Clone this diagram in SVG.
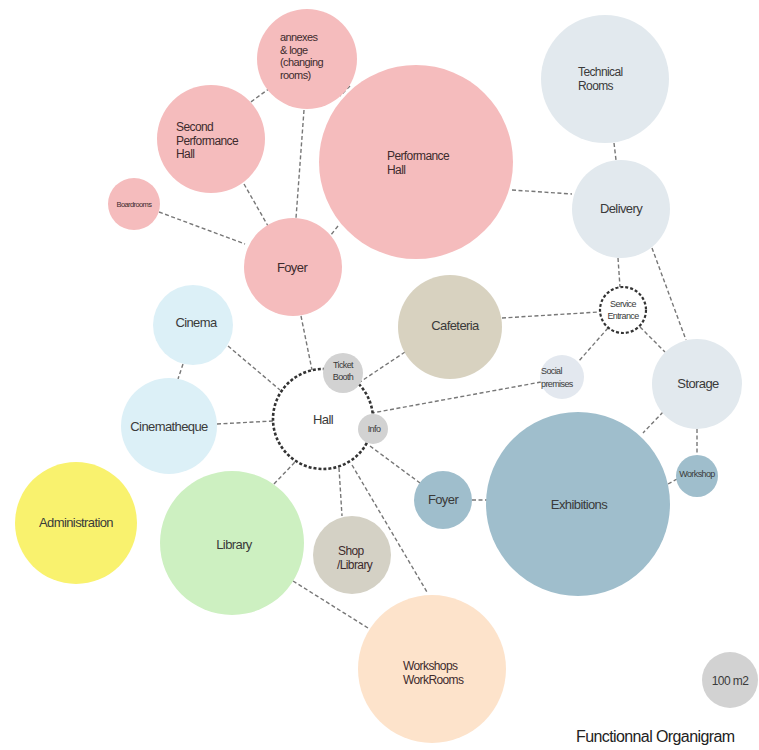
<svg xmlns="http://www.w3.org/2000/svg" width="759" height="750" viewBox="0 0 759 750">
<style>
.bg{fill:#ffffff}
.c{stroke:none}
.pink{fill:#f5bcbd}
.tech{fill:#e2e9ee}
.cine{fill:#dcf0f7}
.caf{fill:#d8d2c0}
.grey{fill:#d2d2d2}
.soc{fill:#e3e8ef}
.adm{fill:#f9f26e}
.lib{fill:#cdf0c1}
.shop{fill:#d4d1c5}
.work{fill:#fde3cb}
.exh{fill:#9fbecc}
.dash{fill:#ffffff;stroke:#333;stroke-width:2.6;stroke-dasharray:3 2}
.dashs{fill:#ffffff;stroke:#333;stroke-width:2.2;stroke-dasharray:3 2}
.ln{stroke:#777;stroke-width:1.4;stroke-dasharray:4 2.5;fill:none}
text{font-family:"Liberation Sans",Arial,sans-serif;fill:#3a3a3a;letter-spacing:-0.6px}
.m{text-anchor:middle}
.p{fill:#3d2b2d}
.s13{font-size:13px}
.s12{font-size:12px}
.s11{font-size:11px}
.s9{font-size:9px}
.s8{font-size:7.5px}
</style>
<rect class="bg" x="0" y="0" width="759" height="750"/>
<g id="connectors">
<line class="ln" x1="270" y1="88" x2="248" y2="104"/>
<line class="ln" x1="350" y1="86" x2="340" y2="96"/>
<line class="ln" x1="304" y1="110" x2="296" y2="218"/>
<line class="ln" x1="244" y1="184" x2="268" y2="226"/>
<line class="ln" x1="159" y1="212" x2="245" y2="244"/>
<line class="ln" x1="338" y1="226" x2="330" y2="236"/>
<line class="ln" x1="512" y1="190" x2="572" y2="194"/>
<line class="ln" x1="614" y1="143" x2="616" y2="160"/>
<line class="ln" x1="618" y1="258" x2="620" y2="287"/>
<line class="ln" x1="652" y1="248" x2="686" y2="340"/>
<line class="ln" x1="502" y1="318" x2="599" y2="312"/>
<line class="ln" x1="608" y1="328" x2="578" y2="362"/>
<line class="ln" x1="640" y1="327" x2="665" y2="352"/>
<line class="ln" x1="541" y1="382" x2="372" y2="413"/>
<line class="ln" x1="405" y1="352" x2="360" y2="382"/>
<line class="ln" x1="301" y1="316" x2="312" y2="370"/>
<line class="ln" x1="228" y1="346" x2="280" y2="390"/>
<line class="ln" x1="183" y1="364" x2="178" y2="379"/>
<line class="ln" x1="217" y1="424" x2="273" y2="421"/>
<line class="ln" x1="274" y1="484" x2="295" y2="462"/>
<line class="ln" x1="339" y1="468" x2="342" y2="516"/>
<line class="ln" x1="352" y1="465" x2="427" y2="592"/>
<line class="ln" x1="370" y1="446" x2="420" y2="483"/>
<line class="ln" x1="472" y1="500" x2="487" y2="500"/>
<line class="ln" x1="668" y1="484" x2="677" y2="479"/>
<line class="ln" x1="697" y1="429" x2="697" y2="455"/>
<line class="ln" x1="663" y1="412" x2="643" y2="433"/>
<line class="ln" x1="293" y1="581" x2="368" y2="628"/>
</g>
<g id="annexes"><circle class="c pink" cx="307" cy="59" r="50"/><text class="s11 p"><tspan x="280" y="41">annexes</tspan><tspan x="280" y="53.5">&amp; loge</tspan><tspan x="280" y="66">(changing</tspan><tspan x="280" y="78.5">rooms)</tspan></text></g>
<g id="second-hall"><circle class="c pink" cx="211" cy="139" r="54"/><text class="s12 p"><tspan x="176" y="131">Second</tspan><tspan x="176" y="144.5">Performance</tspan><tspan x="176" y="158">Hall</tspan></text></g>
<g id="boardrooms"><circle class="c pink" cx="134" cy="204" r="26"/><text class="s8 p m" x="134" y="207">Boardrooms</text></g>
<g id="performance-hall"><circle class="c pink" cx="416" cy="162" r="97"/><text class="s12 p"><tspan x="387" y="160">Performance</tspan><tspan x="387" y="173.5">Hall</tspan></text></g>
<g id="foyer-pink"><circle class="c pink" cx="293" cy="267" r="49"/><text class="s13 p m" x="292" y="272">Foyer</text></g>
<g id="technical"><circle class="c tech" cx="605" cy="79" r="64"/><text class="s12"><tspan x="578" y="76">Technical</tspan><tspan x="578" y="89.5">Rooms</tspan></text></g>
<g id="delivery"><circle class="c tech" cx="621" cy="209" r="49"/><text class="s13 m" x="621" y="213">Delivery</text></g>
<g id="service-entrance"><circle class="dashs" cx="623" cy="310" r="23"/><text class="s9 m"><tspan x="623" y="307">Service</tspan><tspan x="623" y="319">Entrance</tspan></text></g>
<g id="storage"><circle class="c tech" cx="697" cy="384" r="45"/><text class="s13 m" x="698" y="388">Storage</text></g>
<g id="social"><circle class="c soc" cx="562" cy="377" r="22"/><text class="s9"><tspan x="541" y="374">Social</tspan><tspan x="541" y="387">premises</tspan></text></g>
<g id="cafeteria"><circle class="c caf" cx="450" cy="327" r="52"/><text class="s13 m" x="455" y="330">Cafeteria</text></g>
<g id="hall"><circle class="dash" cx="323" cy="419" r="50"/><text class="s13 m" x="323" y="424">Hall</text></g>
<g id="ticket-booth"><circle class="c grey" cx="343" cy="373" r="20"/><text class="s9 m"><tspan x="343" y="368">Ticket</tspan><tspan x="343" y="380">Booth</tspan></text></g>
<g id="info"><circle class="c grey" cx="373" cy="429" r="15"/><text class="s9 m" x="374" y="432">Info</text></g>
<g id="cinema"><circle class="c cine" cx="193" cy="325" r="40"/><text class="s13 m" x="196" y="327">Cinema</text></g>
<g id="cinematheque"><circle class="c cine" cx="169" cy="426" r="48"/><text class="s13 m" x="169" y="431">Cinematheque</text></g>
<g id="administration"><circle class="c adm" cx="76" cy="523" r="61"/><text class="s13 m" x="76" y="527">Administration</text></g>
<g id="library"><circle class="c lib" cx="232" cy="543" r="72"/><text class="s13 m" x="234" y="549">Library</text></g>
<g id="shop"><circle class="c shop" cx="352" cy="555" r="39"/><text class="s12 p"><tspan x="338" y="555">Shop</tspan><tspan x="337" y="569">/Library</tspan></text></g>
<g id="foyer-blue"><circle class="c exh" cx="443" cy="500" r="29"/><text class="s13 m" x="443" y="504">Foyer</text></g>
<g id="exhibitions"><circle class="c exh" cx="578" cy="504" r="92"/><text class="s13 m" x="579" y="509">Exhibitions</text></g>
<g id="workshop"><circle class="c exh" cx="697" cy="476" r="21"/><text class="s9 m" x="697" y="477">Workshop</text></g>
<g id="workshops"><circle class="c work" cx="432" cy="669" r="74"/><text class="s12 p"><tspan x="403" y="670">Workshops</tspan><tspan x="403" y="683.5">WorkRooms</tspan></text></g>
<g id="legend"><circle class="c grey" cx="730" cy="680" r="28"/><text class="s12 m" x="730" y="685">100 m2</text></g>
<text x="576" y="742" style="font-size:16px;fill:#222">Functionnal Organigram</text>
</svg>
